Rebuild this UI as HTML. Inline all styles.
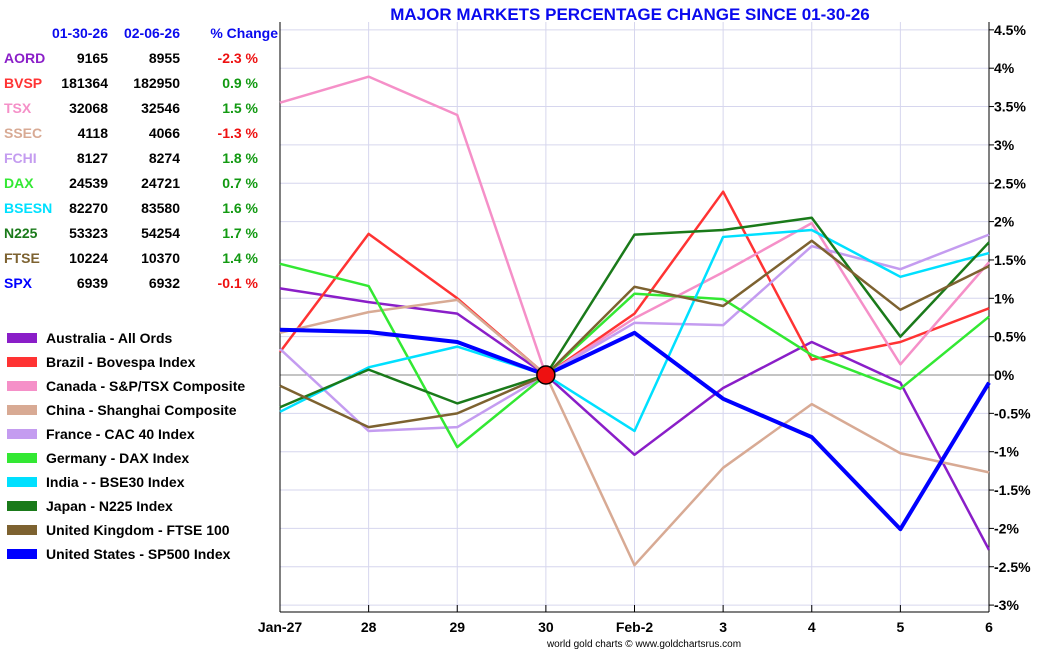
<!DOCTYPE html>
<html><head><meta charset="utf-8"><style>
body{margin:0;background:#fff;width:1050px;height:650px;overflow:hidden;font-family:"Liberation Sans",Arial,sans-serif}
svg text{font-family:"Liberation Sans",Arial,sans-serif}
</style></head><body>
<svg id="c" width="1050" height="650"></svg>
<script>
const categories=["Jan-27","28","29","30","Feb-2","3","4","5","6"];
const names=["AORD","BVSP","TSX","SSEC","FCHI","DAX","BSESN","N225","FTSE","SPX"];
const legendLabels=["Australia - All Ords","Brazil - Bovespa Index","Canada - S&P/TSX Composite","China - Shanghai Composite","France - CAC 40 Index","Germany - DAX Index","India -  - BSE30 Index","Japan - N225 Index","United Kingdom - FTSE 100","United States - SP500 Index"];
const colors=["#8a1ec8","#ff3333","#f590c8","#d8aa94","#c49cf0","#33e833","#00e0ff","#1a7a1a","#7d6230","#0000ff"];
const startVals=["9165","181364","32068","4118","8127","24539","82270","53323","10224","6939"];
const endVals=["8955","182950","32546","4066","8274","24721","83580","54254","10370","6932"];
const pctChange=[-2.3,0.9,1.5,-1.3,1.8,0.7,1.6,1.7,1.4,-0.1];
const sAORD=[1.13,0.95,0.80,0,-1.04,-0.17,0.43,-0.10,-2.28];
const sBVSP=[0.30,1.84,1.00,0,0.80,2.39,0.20,0.43,0.87];
const sTSX=[3.55,3.89,3.39,0,0.74,1.34,1.98,0.14,1.47];
const sSSEC=[0.55,0.82,0.98,0,-2.48,-1.21,-0.38,-1.02,-1.27];
const sFCHI=[0.34,-0.73,-0.68,0,0.68,0.65,1.68,1.38,1.83];
const sDAX=[1.45,1.16,-0.94,0,1.06,0.99,0.26,-0.18,0.76];
const sBSESN=[-0.48,0.10,0.37,0,-0.73,1.80,1.89,1.28,1.59];
const sN225=[-0.42,0.07,-0.37,0,1.83,1.89,2.05,0.50,1.73];
const sFTSE=[-0.14,-0.68,-0.50,0,1.15,0.90,1.75,0.85,1.42];
const sSPX=[0.59,0.56,0.43,0,0.55,-0.31,-0.81,-2.01,-0.10];
const yTicks=[4.5,4,3.5,3,2.5,2,1.5,1,0.5,0,-0.5,-1,-1.5,-2,-2.5,-3];
const series=[sAORD,sBVSP,sTSX,sSSEC,sFCHI,sDAX,sBSESN,sN225,sFTSE,sSPX];

const NS="http://www.w3.org/2000/svg",svg=document.getElementById('c');
const X0=280,X1=989,Y0=375,PPU=76.7;
const xs=i=>X0+i*(X1-X0)/(categories.length-1);
const ys=v=>Y0-v*PPU;
function mk(t,a,p){const e=document.createElementNS(NS,t);for(const k in a)e.setAttribute(k,a[k]);(p||svg).appendChild(e);return e;}
function tx(x,y,s,a){const e=mk('text',Object.assign({x:x,y:y},a));e.textContent=s;return e;}

// grid
yTicks.forEach(v=>{
 const l=mk('line',{x1:X0,x2:X1,y1:ys(v),y2:ys(v),stroke:v===0?'#888':'#d6d6ee','stroke-width':1});
 
 
 mk('line',{x1:X1,x2:X1+5,y1:ys(v),y2:ys(v),stroke:'#000'});
 const t=tx(994,ys(v)+5,v+'%',{'font-size':'14','font-weight':'bold'});
 
 
});
categories.forEach((c,i)=>{
 const l=mk('line',{x1:xs(i),x2:xs(i),y1:22,y2:612,stroke:'#d6d6ee'});
 
 
 mk('line',{x1:xs(i),x2:xs(i),y1:605,y2:612,stroke:'#000'});
 const t=tx(xs(i),632,c,{'font-size':'14','font-weight':'bold','text-anchor':'middle'});
 
 
});
mk('line',{x1:X0,x2:X0,y1:22,y2:612,stroke:'#000'});
mk('line',{x1:X1,x2:X1,y1:22,y2:612,stroke:'#000'});
mk('line',{x1:X0,x2:X1,y1:612,y2:612,stroke:'#000'});

const title=tx(630,20,'MAJOR MARKETS PERCENTAGE CHANGE SINCE 01-30-26',{'font-size':'17','font-weight':'bold',fill:'#0a0aee','text-anchor':'middle'});


const cr=tx(644,647,'world gold charts © www.goldchartsrus.com',{'font-size':'10','text-anchor':'middle'});



// series
series.forEach((s,k)=>{
 const p=mk('polyline',{points:s.map((v,i)=>xs(i)+','+ys(v)).join(' '),fill:'none',stroke:colors[k],'stroke-width':k===9?4:2.5,'stroke-linejoin':'round'});
 
 
});
const dot=mk('circle',{cx:xs(3),cy:ys(0),r:9,fill:'#ee1111',stroke:'#000','stroke-width':1.5});



// table
[['01-30-26',108],['02-06-26',180],['% Change',278]].forEach(h=>{
 const t=tx(h[1],38,h[0],{'font-size':'14','font-weight':'bold',fill:'#0a0aee','text-anchor':'end'});
 
 
});
names.forEach((n,k)=>{
 const y=63+k*25;
 const a=tx(4,y,n,{'font-size':'14','font-weight':'bold',fill:colors[k]});
 
 
 const b=tx(108,y,startVals[k],{'font-size':'14','font-weight':'bold','text-anchor':'end'});
 
 
 const c=tx(180,y,endVals[k],{'font-size':'14','font-weight':'bold','text-anchor':'end'});
 
 
 const d=tx(258,y,pctChange[k].toFixed(1)+' %',{'font-size':'14','font-weight':'bold','text-anchor':'end',fill:pctChange[k]<0?'#ee1111':'#119911'});
 
 
});
// legend
legendLabels.forEach((l,k)=>{
 const y=338+k*24;
 const r=mk('rect',{x:7,y:y-5,width:30,height:10,fill:colors[k]});
 
 
 const t=tx(46,y+5,l,{'font-size':'14','font-weight':'bold'});
 
 
});
</script>
</body></html>
